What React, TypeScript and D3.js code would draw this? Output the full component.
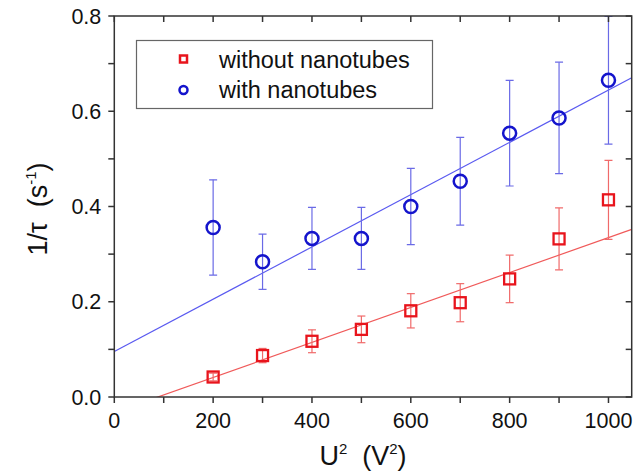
import React from 'react';
import * as d3 from 'd3';

// U^2 (V^2)
const voltages = [200, 300, 400, 500, 600, 700, 800, 900, 1000];
// 1/tau without nanotubes, and its error bars
const withoutVals = [0.042, 0.087, 0.117, 0.142, 0.181, 0.198, 0.248, 0.332, 0.414];
const withoutErr = [0.008, 0.015, 0.024, 0.028, 0.036, 0.04, 0.05, 0.065, 0.083];
// 1/tau with nanotubes, and its error bars
const withVals = [0.356, 0.284, 0.333, 0.333, 0.4, 0.453, 0.554, 0.586, 0.665];
const withErr = [0.1, 0.058, 0.065, 0.065, 0.08, 0.092, 0.111, 0.117, 0.134];
// linear fits: [intercept, slope]
const withoutFit = [-0.0323, 0.000367];
const withFit = [0.0955, 0.000549];

const xMajor = [0, 200, 400, 600, 800, 1000];
const xMinor = [100, 300, 500, 700, 900];
const yMajor = [0, 0.2, 0.4, 0.6, 0.8];
const yMinor = [0.1, 0.3, 0.5, 0.7];

const legendLabels = ['without nanotubes', 'with nanotubes'];

const RED = '#e8141c';
const BLUE = '#1414cc';
const RED_LIGHT = '#f06a6a';
const BLUE_LIGHT = '#6a6ae6';
const AXIS = '#333';
const FONT = '"Liberation Sans", Arial, sans-serif';

const App = () => {
  const width = 635, height = 475;
  const margin = { top: 16, right: 3.3, bottom: 78, left: 114.3 };

  const x = d3.scaleLinear().domain([0, 1047]).range([margin.left, width - margin.right]);
  const y = d3.scaleLinear().domain([0, 0.8]).range([height - margin.bottom, margin.top]);

  const [x0, x1] = x.range();
  const [y0, y1] = y.range();

  const fitLine = (fit) => {
    const xs = [0, 1047];
    return d3.line()(xs.map(v => [x(v), y(fit[0] + fit[1] * v)]));
  };

  const errBars = (vals, errs, color) =>
    voltages.map((v, i) => {
      const cx = x(v);
      const top = y(vals[i] + errs[i]);
      const bot = y(vals[i] - errs[i]);
      return (
        <g key={i} stroke={color} strokeWidth={1.2}>
          <line x1={cx} x2={cx} y1={top} y2={bot} />
          <line x1={cx - 4} x2={cx + 4} y1={top} y2={top} />
          <line x1={cx - 4} x2={cx + 4} y1={bot} y2={bot} />
        </g>
      );
    });

  return (
    <svg width={width} height={height} style={{ position: 'absolute', left: 0, top: 0, background: '#fff' }}
      fontFamily={FONT}>
      <defs>
        <clipPath id="plot">
          <rect x={x0} y={y1} width={x1 - x0} height={y0 - y1} />
        </clipPath>
      </defs>

      <g clipPath="url(#plot)">
        <path d={fitLine(withFit)} stroke="#5a5af0" strokeWidth={1.2} fill="none" />
        <path d={fitLine(withoutFit)} stroke="#f05a5a" strokeWidth={1.2} fill="none" />
        {errBars(withVals, withErr, BLUE_LIGHT)}
        {errBars(withoutVals, withoutErr, RED_LIGHT)}
      </g>

      {voltages.map((v, i) => (
        <circle key={'c' + i} cx={x(v)} cy={y(withVals[i])} r={6.5} fill="none" stroke={BLUE} strokeWidth={2.5} />
      ))}
      {voltages.map((v, i) => (
        <rect key={'s' + i} x={x(v) - 5.5} y={y(withoutVals[i]) - 5.5} width={11} height={11}
          fill="none" stroke={RED} strokeWidth={2.3} />
      ))}

      {/* frame */}
      <rect x={x0} y={y1} width={x1 - x0} height={y0 - y1} fill="none" stroke={AXIS} strokeWidth={1.5} />

      {/* x ticks: outward at bottom, inward at top */}
      <g stroke={AXIS} strokeWidth={1.5}>
        {xMajor.concat(xMinor).map(v => (
          <g key={'xt' + v}>
            <line x1={x(v)} x2={x(v)} y1={y0} y2={y0 + 6} />
            <line x1={x(v)} x2={x(v)} y1={y1} y2={y1 + 6} />
          </g>
        ))}
        {yMajor.concat(yMinor).map(v => (
          <g key={'yt' + v}>
            <line x1={x0} x2={x0 - 6} y1={y(v)} y2={y(v)} />
            <line x1={x1} x2={x1 - 6} y1={y(v)} y2={y(v)} />
          </g>
        ))}
      </g>

      <g fontSize={21.5} fill="#111">
        {xMajor.map(v => (
          <text key={'xl' + v} x={x(v)} y={y0 + 31} textAnchor="middle">{v}</text>
        ))}
        {yMajor.map(v => (
          <text key={'yl' + v} x={x0 - 13} y={y(v) + 7.5} textAnchor="end">{d3.format('.1f')(v)}</text>
        ))}
      </g>

      {/* axis titles */}
      <text x={363} y={465} textAnchor="middle" fontSize={27} fill="#111">
        U<tspan dy={-11} fontSize={15}>2</tspan><tspan dy={11}>{'\u00a0 (V'}</tspan>
        <tspan dy={-11} fontSize={15}>2</tspan><tspan dy={11}>)</tspan>
      </text>
      <text transform="translate(47,209) rotate(-90)" textAnchor="middle" fontSize={27} fill="#111">
        1/τ{'\u00a0 (s'}<tspan dy={-11} fontSize={15}>-1</tspan><tspan dy={11}>)</tspan>
      </text>

      {/* legend */}
      <rect x={136.5} y={40.5} width={296} height={68} fill="#fff" stroke="#666" strokeWidth={1.2} />
      <rect x={180} y={55.5} width={7} height={7} fill="none" stroke={RED} strokeWidth={2.5} />
      <circle cx={183.5} cy={90} r={4} fill="none" stroke={BLUE} strokeWidth={2.5} />
      <g fontSize={23.5} fill="#111">
        <text x={219} y={67.5}>{legendLabels[0]}</text>
        <text x={219} y={98}>{legendLabels[1]}</text>
      </g>
    </svg>
  );
};

export default App;
